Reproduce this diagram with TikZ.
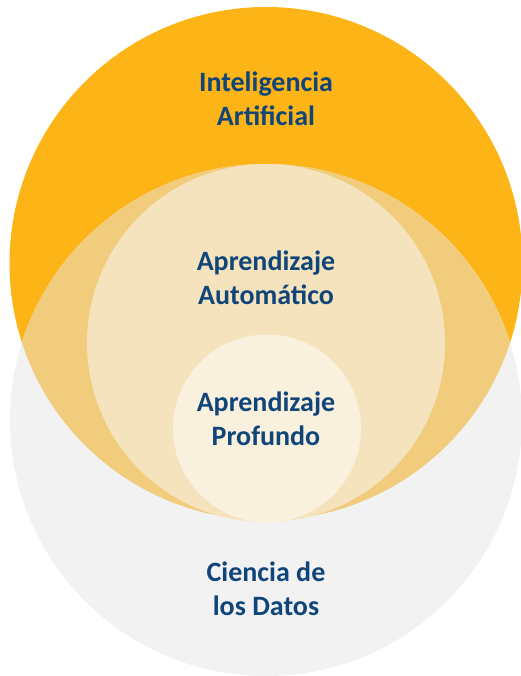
\documentclass[tikz,border=0pt]{standalone}
\usepackage{fontspec}
\setmainfont{Carlito}
\definecolor{aiorange}{RGB}{253,180,22}
\definecolor{overlap}{RGB}{240,204,124}
\definecolor{mlfill}{RGB}{245,227,190}
\definecolor{dlfill}{RGB}{250,240,222}
\definecolor{dsgrey}{RGB}{241,242,241}
\definecolor{labelblue}{RGB}{15,69,120}
\tikzset{
  lbl/.style={text=labelblue, align=center, font=\fontsize{28}{34}\selectfont\bfseries, inner sep=0pt}
}
\begin{document}
\begin{tikzpicture}[x=1pt,y=-1pt]
\useasboundingbox (0,0) rectangle (521,676);
\fill[aiorange] (266,263.5) circle (256.5);
\fill[dsgrey] (266,420) circle (256);
\begin{scope}
  \clip (266,263.5) circle (256.5);
  \fill[overlap] (266,420) circle (256);
\end{scope}
\fill[mlfill] (266,343) circle (179);
\fill[dlfill] (267,428.5) circle (94);
\node[lbl] (ai) at (266,99) {Inteligencia\\Artificial};
\node[lbl] (ml) at (266,278) {Aprendizaje\\Automático};
\node[lbl] (dl) at (266,419) {Aprendizaje\\Profundo};
\node[lbl] (ds) at (266,589) {Ciencia de\\los Datos};
\end{tikzpicture}
\end{document}
